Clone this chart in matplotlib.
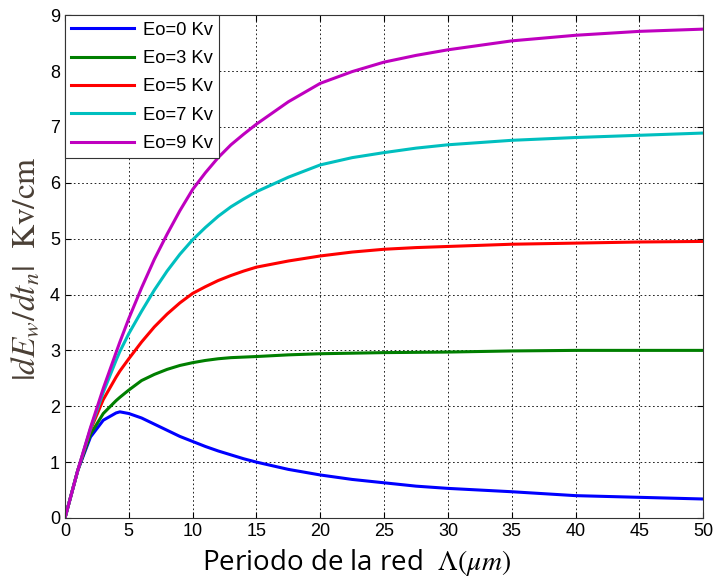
import numpy as np
import matplotlib
matplotlib.use("Agg")
import matplotlib.pyplot as plt

plt.rcParams["mathtext.fontset"] = "stix"
plt.rcParams["font.family"] = ["Liberation Sans", "DejaVu Sans"]

# period of the grating (um)
x_vals = [0, 1, 2, 3, 4, 4.3, 5, 6, 7, 8, 9, 10, 11, 12, 13, 14, 15, 17.5, 20,
          22.5, 25, 27.5, 30, 35, 40, 45, 50]

# |dEw/dtn| (Kv/cm)
e0 = [0, 0.85, 1.45, 1.75, 1.88, 1.90, 1.87, 1.79, 1.68, 1.57, 1.46, 1.37, 1.28, 1.20,
      1.13, 1.06, 1.00, 0.87, 0.77, 0.69, 0.63, 0.57, 0.53, 0.47, 0.40, 0.37, 0.34]
e3 = [0, 0.85, 1.50, 1.87, 2.10, 2.16, 2.29, 2.46, 2.57, 2.66, 2.73, 2.78, 2.82, 2.85,
      2.87, 2.88, 2.89, 2.92, 2.94, 2.95, 2.96, 2.965, 2.97, 2.99, 3.00, 3.00, 3.00]
e5 = [0, 0.85, 1.58, 2.12, 2.52, 2.63, 2.85, 3.15, 3.42, 3.65, 3.85, 4.02, 4.14, 4.25,
      4.34, 4.42, 4.49, 4.60, 4.69, 4.76, 4.81, 4.84, 4.86, 4.90, 4.92, 4.94, 4.95]
e7 = [0, 0.85, 1.60, 2.25, 2.82, 2.98, 3.30, 3.70, 4.08, 4.42, 4.72, 4.98, 5.20, 5.40,
      5.57, 5.71, 5.84, 6.10, 6.32, 6.45, 6.54, 6.62, 6.68, 6.76, 6.81, 6.85, 6.89]
e9 = [0, 0.85, 1.62, 2.32, 2.96, 3.15, 3.57, 4.12, 4.63, 5.08, 5.50, 5.88, 6.18, 6.45,
      6.68, 6.87, 7.05, 7.45, 7.78, 7.99, 8.16, 8.28, 8.38, 8.54, 8.64, 8.71, 8.75]

series = [e0, e3, e5, e7, e9]
labels = ["Eo=0 Kv", "Eo=3 Kv", "Eo=5 Kv", "Eo=7 Kv", "Eo=9 Kv"]
colors = ["#0000ff", "#007f00", "#ff0000", "#00bfbf", "#bf00bf"]

fig = plt.figure(figsize=(7.14, 5.83), dpi=100)
ax = fig.add_axes([0.091, 0.1115, 0.894, 0.8625])

for y, lab, c in zip(series, labels, colors):
    ax.plot(x_vals, y, color=c, lw=2.2, label=lab)

ax.set_xlim(0, 50)
ax.set_ylim(0, 9)
ax.set_xticks(np.arange(0, 51, 5))
ax.set_yticks(np.arange(0, 10, 1))
ax.tick_params(direction="in", labelsize=13, length=4, width=0.8, top=True, right=True)
ax.grid(True, color="black", linestyle=(0, (2, 3)), linewidth=0.6)
for s in ax.spines.values():
    s.set_linewidth(0.8)
    s.set_color("#333333")

leg = ax.legend(loc="upper left", fontsize=13.2, handlelength=3.4, labelspacing=0.62,
                borderaxespad=0.0, fancybox=False, framealpha=1, edgecolor="#333333",
                handletextpad=0.5, borderpad=0.35)
leg.get_frame().set_linewidth(0.8)

fig.text(0.5, 0.035, r"Periodo de la red  $\Lambda(\mu m)$", ha="center", va="center",
         fontsize=20, family=["Open Sans", "DejaVu Sans"])
fig.text(0.036, 0.54, r"$|dE_w/dt_n|\ \ \mathrm{Kv/cm}$", rotation=90, ha="center",
         va="center", fontsize=24, color="#4a3f35")

fig.savefig("out.png", dpi=100)
